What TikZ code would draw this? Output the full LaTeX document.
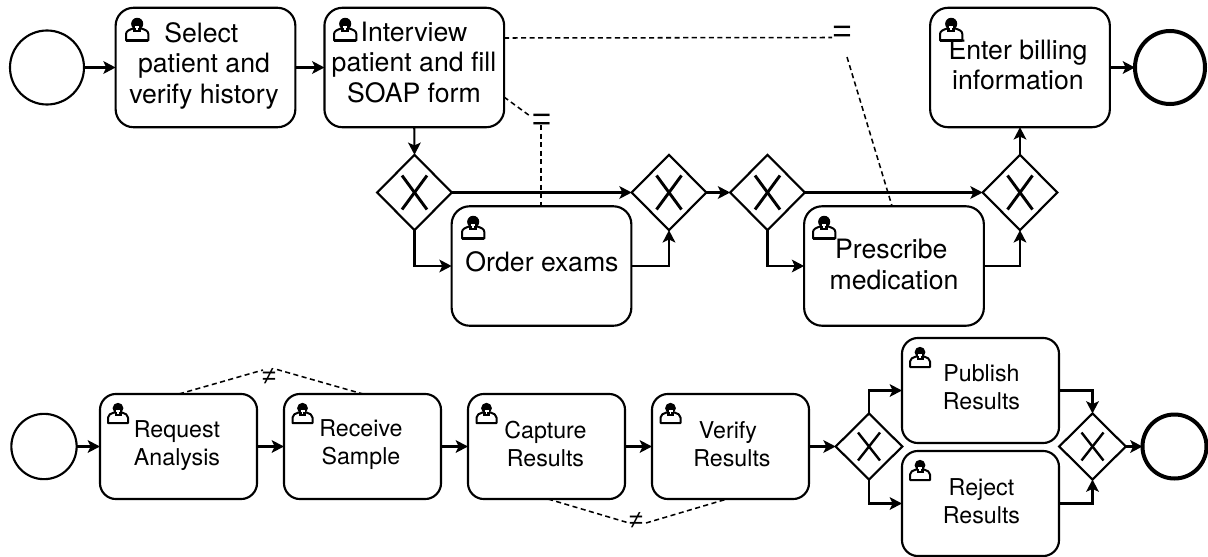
\documentclass[tikz,border=0pt]{standalone}
\usepackage{fontspec}
\setmainfont{TeX Gyre Heros}
\newfontfamily\markfont{Liberation Sans}
\usetikzlibrary{arrows.meta,shapes.geometric}
\tikzset{
  x=0.75pt,y=-0.75pt,
  flow/.style={draw=black,line width=1.6pt,-{Stealth[length=9.2pt,width=9.5pt,inset=2.2pt]}},
  dep/.style={draw=black,line width=1.15pt,dash pattern=on 3.8pt off 2.6pt},
  box/.style={draw=black,line width=1.6pt,fill=white,rectangle,inner sep=0pt,outer sep=0pt},
  bigtask/.style={box,rounded corners=13.5pt,minimum width=134.8pt,minimum height=89.6pt},
  smalltask/.style={box,rounded corners=12pt,minimum width=117.8pt,minimum height=78.8pt},
  gate/.style={draw=black,line width=1.6pt,fill=white,diamond,aspect=1,inner sep=0pt,outer sep=0pt},
  biggate/.style={gate,minimum width=56pt,minimum height=56.5pt},
  smallgate/.style={gate,minimum width=50pt,minimum height=49.5pt},
  ev/.style={draw=black,ellipse,inner sep=0pt,outer sep=0pt,line width=1.6pt,fill=white},
  bigtext/.style={align=center,inner sep=0pt,font=\fontsize{20pt}{22.9pt}\selectfont},
  smalltext/.style={align=center,inner sep=0pt,font=\fontsize{17.4pt}{21pt}\selectfont},
  depmark/.style={inner sep=0pt},
  xbig/.style={line width=2.2pt},
  xsmall/.style={line width=1.8pt},
  person/.pic={
    \draw[line width=1.5pt,fill=white,line join=round] (0,20) -- (0,14.5) .. controls (0,11.5) and (3,10.5) .. (6,9.5) -- (14,9.5) .. controls (17,10.5) and (20,11.5) .. (20,14.5) -- (20,20) -- cycle;
    \fill[black] (10,5.2) circle [radius=5.4];
    \fill[black] (6.5,7) rectangle (13.5,12.5);
    \fill[white] (8,7.4) rectangle (12,8.6);
    \fill[white] (9.3,8) rectangle (10.7,11);
    \draw[line width=1.7pt] (0,20) -- (20,20);
  }
}
\newcommand{\xmark}[4][xbig]{%
  \draw[#1] ([shift={(-#3,-#4)}]#2.center) -- ([shift={(#3,#4)}]#2.center);
  \draw[#1] ([shift={(-#3,#4)}]#2.center) -- ([shift={(#3,-#4)}]#2.center);
}
\begin{document}
\begin{tikzpicture}
\useasboundingbox (0,0) rectangle (1208,557);
% top row
\node[ev,minimum width=55.5pt,minimum height=55.5pt] (start1) at (47,67.5) {};
\node[bigtask] (t1) at (205.5,67.5) {};
\node[bigtask] (t2) at (414.3,67.5) {};
\node[biggate] (g1) at (414.5,192.5) {};
\node[bigtask] (order) at (541.5,266) {};
\node[biggate] (g2) at (669,192.5) {};
\node[biggate] (g3) at (767.5,192.5) {};
\node[bigtask] (presc) at (894,266) {};
\node[biggate] (g4) at (1020,192.5) {};
\node[bigtask] (bill) at (1020,67.5) {};
\node[ev,line width=3pt,minimum width=52.5pt,minimum height=54.75pt] (end1) at (1170,67.5) {};
% bottom row
\node[ev,minimum width=49pt,minimum height=49pt] (start2) at (44,446.5) {};
\node[smalltask] (t5) at (178.5,446.5) {};
\node[smalltask] (t6) at (362.5,446.5) {};
\node[smalltask] (t7) at (546.5,446.5) {};
\node[smalltask] (t8) at (730.5,446.5) {};
\node[smallgate] (g5) at (869,446.5) {};
\node[smalltask] (pub) at (980.5,390.5) {};
\node[smalltask] (rej) at (980.5,503.5) {};
\node[smallgate] (g6) at (1092.5,446.5) {};
\node[ev,line width=3pt,minimum width=48pt,minimum height=48pt] (end2) at (1174.5,446.5) {};
% gateway marks
\xmark{g1}{12.5}{17}
\xmark{g2}{12.5}{17}
\xmark{g3}{12.5}{17}
\xmark{g4}{12.5}{17}
\xmark[xsmall]{g5}{11}{14}
\xmark[xsmall]{g6}{11}{14}
% icons
\pic[scale=1.12] at (126,18) {person};
\pic[scale=1.12] at (334,18) {person};
\pic[scale=1.12] at (462,216) {person};
\pic[scale=1.12] at (813,216) {person};
\pic[scale=1.12] at (940,18) {person};
\pic at (108,403) {person};
\pic at (292.5,403) {person};
\pic at (476.5,403) {person};
\pic at (660.5,403) {person};
\pic at (910,347) {person};
\pic at (910,460) {person};
% texts
\node[bigtext] (t1text) at (204,65.5) {Select\hspace*{4pt}\\patient and\\verify history};
\node[bigtext] (t2text) at (414,62.5) {Interview\\patient and fill\\SOAP form};
\node[bigtext] (ordertext) at (542,262) {Order exams};
\node[bigtext] (presctext) at (894,264.5) {Prescribe\hspace*{4pt}\\medication};
\node[bigtext] (billtext) at (1018,65) {Enter billing\\information};
\node[smalltext] (t5text) at (177,446) {Request\\Analysis};
\node[smalltext] (t6text) at (361,445) {Receive\\Sample};
\node[smalltext] (t7text) at (545.5,444) {Capture\\Results};
\node[smalltext] (t8text) at (732,444) {Verify\hspace*{6pt}\\Results};
\node[smalltext] (pubtext) at (981.5,387) {Publish\\Results};
\node[smalltext] (rejtext) at (981.5,501) {Reject\\Results};
% sequence flows
\draw[flow] (start1.east) -- (t1.west);
\draw[flow] (t1.east) -- (t2.west);
\draw[flow] (t2.south) -- (g1.north);
\draw[flow] (g1.east) -- (g2.west);
\draw[flow] (g1.south) |- (order.west);
\draw[flow] (order.east) -| (g2.south);
\draw[flow] (g2.east) -- (g3.west);
\draw[flow] (g3.east) -- (g4.west);
\draw[flow] (g3.south) |- (presc.west);
\draw[flow] (presc.east) -| (g4.south);
\draw[flow] (g4.north) -- (bill.south);
\draw[flow] (bill.east) -- (end1.west);
\draw[flow] (start2.east) -- (t5.west);
\draw[flow] (t5.east) -- (t6.west);
\draw[flow] (t6.east) -- (t7.west);
\draw[flow] (t7.east) -- (t8.west);
\draw[flow] (t8.east) -- (g5.west);
\draw[flow] (g5.north) |- (pub.west);
\draw[flow] (g5.south) |- (rej.west);
\draw[flow] (pub.east) -| (g6.north);
\draw[flow] (rej.east) -| (g6.south);
\draw[flow] (g6.east) -- (end2.west);
% dependency marks
\node[depmark,font=\markfont\fontsize{25pt}{25pt}\selectfont] (eq1) at (842,34.5) {=};
\node[depmark,font=\markfont\fontsize{25pt}{25pt}\selectfont] (eq2) at (541.5,122) {=};
\node[depmark,font=\markfont\fontsize{19pt}{19pt}\selectfont] (ne1) at (269,376) {≠};
\node[depmark,font=\markfont\fontsize{19pt}{19pt}\selectfont] (ne2) at (636,520) {≠};
\coordinate (a1) at (504,38);
\coordinate (a2) at (832,37.5);
\coordinate (a3) at (847,57);
\coordinate (a4) at (892,206);
\coordinate (b1) at (504,97);
\coordinate (b2) at (530,116);
\coordinate (b3) at (541,125);
\coordinate (b4) at (541,206);
\coordinate (c1) at (179,394);
\coordinate (c2) at (263,370);
\coordinate (c3) at (277,369.5);
\coordinate (c4) at (363,394);
\coordinate (d1) at (548,499);
\coordinate (d2) at (629,523);
\coordinate (d3) at (646,523);
\coordinate (d4) at (727,499);
\draw[dep] (a1) -- (a2);
\draw[dep] (a3) -- (a4);
\draw[dep] (b1) -- (b2);
\draw[dep] (b3) -- (b4);
\draw[dep] (c1) -- (c2);
\draw[dep] (c3) -- (c4);
\draw[dep] (d1) -- (d2);
\draw[dep] (d3) -- (d4);
\end{tikzpicture}
\end{document}
